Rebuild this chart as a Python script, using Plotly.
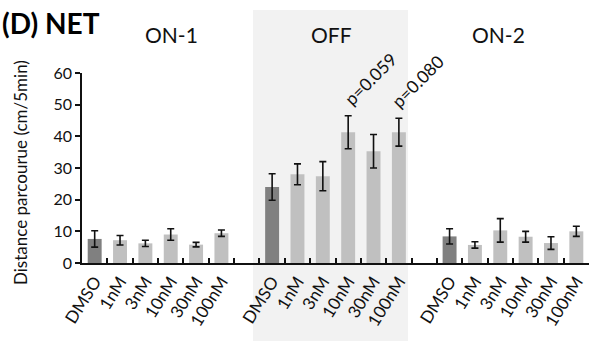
import plotly.graph_objects as go

# ---- data ----
doses = ["DMSO", "1nM", "3nM", "10nM", "30nM", "100nM"]
groups = ["ON-1", "OFF", "ON-2"]
on1_mean = [7.6, 7.2, 6.2, 9.0, 5.8, 9.4]
on1_err = [2.6, 1.5, 1.0, 1.8, 0.7, 1.0]
off_mean = [24.0, 28.0, 27.4, 41.3, 35.3, 41.3]
off_err = [4.2, 3.3, 4.6, 5.2, 5.3, 4.4]
on2_mean = [8.4, 5.7, 10.3, 8.3, 6.3, 10.0]
on2_err = [2.4, 1.0, 3.7, 1.7, 2.0, 1.6]
p_labels = {"OFF|10nM": "p=0.059", "OFF|100nM": "p=0.080"}
y_title = "Distance parcourue (cm/5min)"
panel_title = "(D) NET"

# ---- build category list with gaps ----
cats, ticktext, vals, errs, colors = [], [], [], [], []
for gi, (g, m, e) in enumerate(zip(groups, [on1_mean, off_mean, on2_mean], [on1_err, off_err, on2_err])):
    for d, v, er in zip(doses, m, e):
        cats.append(f"{g}|{d}")
        ticktext.append(d)
        vals.append(v)
        errs.append(er)
        colors.append("#808080" if d == "DMSO" else "#c0c0c0")
    if gi < len(groups) - 1:
        cats.append(f"gap{gi}")
        ticktext.append("")
        vals.append(None)
        errs.append(None)
        colors.append("#c0c0c0")

W, H = 590, 341
L, R, T, B = 82, 1, 73, 78
PW, PH = W - L - R, H - T - B


def xp(px):
    return (px - L) / PW


def yp(py):
    return (H - B - py) / PH


FONT = "Lato, 'Open Sans', sans-serif"

fig = go.Figure()
fig.add_trace(go.Bar(
    x=cats, y=vals,
    marker=dict(color=colors, line=dict(width=0)),
    error_y=dict(type="data", array=errs, visible=True, color="#111111", thickness=1.6, width=3.5),
    hoverinfo="skip",
))

# shaded OFF region
fig.add_shape(type="rect", xref="paper", yref="paper",
              x0=xp(253), x1=xp(408), y0=yp(341), y1=yp(10),
              fillcolor="#f2f2f2", line=dict(width=0), layer="below")

annotations = []
annotations.append(dict(text=f"<b>{panel_title}</b>", xref="paper", yref="paper",
                        x=xp(0), y=yp(23.5), xanchor="left", yanchor="middle",
                        showarrow=False, font=dict(family=FONT, size=28, color="#000")))
for g, cx in zip(groups, [171, 331.7, 498.3]):
    annotations.append(dict(text=g, xref="paper", yref="paper", x=xp(cx), y=yp(34.5),
                            xanchor="center", yanchor="middle", showarrow=False,
                            font=dict(family=FONT, size=21, color="#111")))
for (key, txt), (cx, cy) in zip(p_labels.items(), [(370, 79), (417.5, 81)]):
    annotations.append(dict(text=txt, xref="paper", yref="paper", x=xp(cx), y=yp(cy),
                            xanchor="center", yanchor="middle", showarrow=False, textangle=-45,
                            font=dict(family=FONT, size=17.5, color="#111")))
annotations.append(dict(text=y_title, xref="paper", yref="paper", x=xp(20), y=yp(173),
                        xanchor="center", yanchor="middle", showarrow=False, textangle=-90,
                        font=dict(family=FONT, size=17, color="#111")))

fig.update_layout(
    width=W, height=H,
    margin=dict(l=L, r=R, t=T, b=B, autoexpand=False),
    paper_bgcolor="white", plot_bgcolor="rgba(0,0,0,0)",
    showlegend=False, bargap=0.45,
    annotations=annotations,
    font=dict(family=FONT, color="#111"),
)
fig.update_xaxes(
    type="category", categoryorder="array", categoryarray=cats,
    tickmode="array", tickvals=cats, ticktext=ticktext,
    range=[-0.5, len(cats) - 0.5], tickson="boundaries",
    ticks="inside", ticklen=5, tickwidth=1.5, tickcolor="#111",
    showline=True, linecolor="#111", linewidth=1.8,
    tickangle=-58, tickfont=dict(family=FONT, size=17, color="#111"),
    showgrid=False, zeroline=False, fixedrange=True,
)
fig.update_yaxes(
    range=[0, 60], dtick=10, tick0=0,
    ticks="outside", ticklen=5, tickwidth=1.5, tickcolor="#111",
    showline=True, linecolor="#111", linewidth=1.5,
    tickfont=dict(family=FONT, size=16, color="#111"),
    showgrid=False, zeroline=False, fixedrange=True,
)

fig.write_html("out.html", config={"displayModeBar": False},
               post_script="document.body.style.margin='0px';document.body.style.overflow='hidden';")
